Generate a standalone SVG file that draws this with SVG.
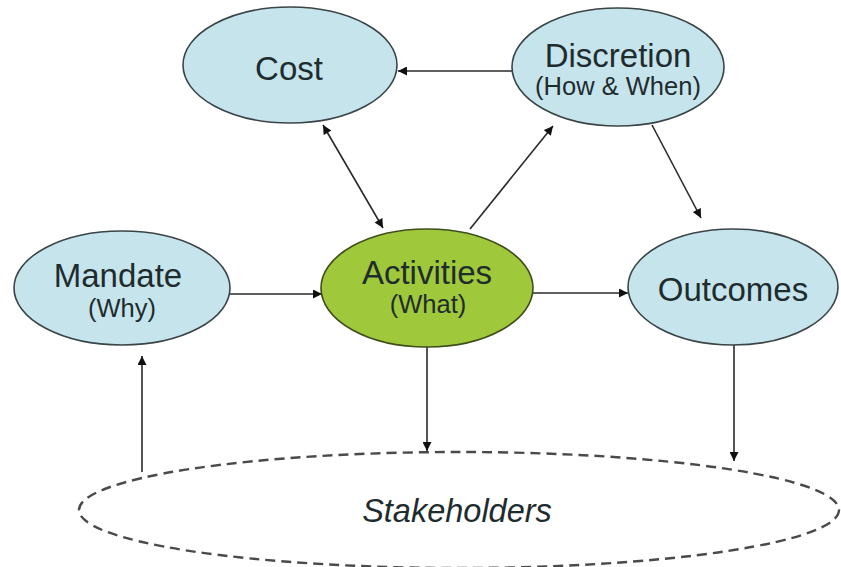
<svg xmlns="http://www.w3.org/2000/svg" width="841" height="567" viewBox="0 0 841 567">
<style>
.node{fill:#c6e4ec;stroke:#3a4446;stroke-width:1.6}
.act{fill:#9fc83a;stroke:#3f4d1c;stroke-width:1.6}
.t{font-family:"Liberation Sans",Arial,sans-serif;fill:#1f2c2e;text-anchor:middle}
.main{font-size:33px}
.sub{font-size:25.5px}
.c{fill:none;stroke:#2a2a2a;stroke-width:1.6}
.stk{fill:none;stroke:#4a4a4a;stroke-width:2.4;stroke-dasharray:10 6}
</style>
<defs>
<marker id="ah" viewBox="0 0 10 10" refX="10" refY="5" markerWidth="10" markerHeight="9" markerUnits="userSpaceOnUse" orient="auto-start-reverse">
<path d="M0,0 L10,5 L0,10 z" fill="#111"/>
</marker>
</defs>
<rect width="841" height="567" fill="#fff"/>
<g id="stakeholders">
<ellipse class="stk" cx="459" cy="510" rx="380" ry="58"/>
<text class="t" x="457" y="522" style="font-size:32.5px;font-style:italic">Stakeholders</text>
</g>
<g id="connectors">
<line class="c" x1="512" y1="71" x2="398" y2="71" marker-end="url(#ah)"/>
<line class="c" x1="323" y1="125" x2="383" y2="228" marker-start="url(#ah)" marker-end="url(#ah)"/>
<line class="c" x1="470" y1="229" x2="553" y2="126" marker-end="url(#ah)"/>
<line class="c" x1="652" y1="125" x2="701" y2="218" marker-end="url(#ah)"/>
<line class="c" x1="230" y1="294" x2="322" y2="294" marker-end="url(#ah)"/>
<line class="c" x1="533" y1="293" x2="628" y2="293" marker-end="url(#ah)"/>
<line class="c" x1="427" y1="347" x2="427" y2="451" marker-end="url(#ah)"/>
<line class="c" x1="734" y1="345" x2="734" y2="461" marker-end="url(#ah)"/>
<line class="c" x1="142" y1="472" x2="142" y2="356" marker-end="url(#ah)"/>
</g>
<g id="cost">
<ellipse class="node" cx="290" cy="65" rx="107" ry="58"/>
<text class="t main" x="289" y="80">Cost</text>
</g>
<g id="discretion">
<ellipse class="node" cx="618" cy="67" rx="106" ry="59"/>
<text class="t main" x="618" y="67">Discretion</text>
<text class="t sub" x="618" y="95">(How &amp; When)</text>
</g>
<g id="mandate">
<ellipse class="node" cx="122" cy="288" rx="108" ry="57"/>
<text class="t main" x="118" y="287">Mandate</text>
<text class="t sub" x="122" y="317">(Why)</text>
</g>
<g id="activities">
<ellipse class="act" cx="427" cy="288" rx="106" ry="59"/>
<text class="t main" x="427" y="284">Activities</text>
<text class="t sub" x="428" y="313">(What)</text>
</g>
<g id="outcomes">
<ellipse class="node" cx="733" cy="287" rx="105" ry="58"/>
<text class="t main" x="733" y="301">Outcomes</text>
</g>
</svg>
